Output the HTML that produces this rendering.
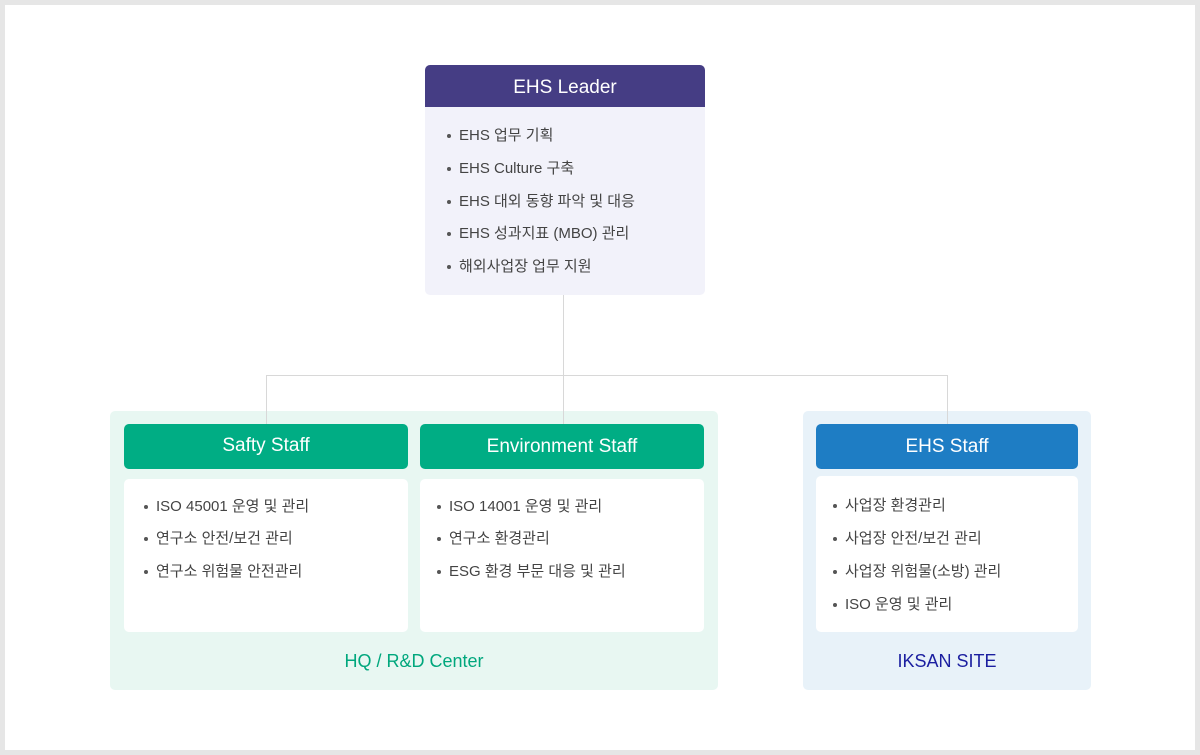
<!DOCTYPE html>
<html><head><meta charset="utf-8"><style>
*{margin:0;padding:0;box-sizing:border-box}
body{width:1200px;height:755px;background:#e6e6e6;font-family:"Liberation Sans","Noto Sans CJK KR",sans-serif;position:relative;overflow:hidden}
.frame{position:absolute;left:5px;top:5px;width:1190px;height:745px;background:#fff}
.a{position:absolute}
.hd{position:absolute;color:#fff;font-size:19px;text-align:center;border-radius:5px}
.bd{position:absolute;background:#fff;border-radius:5px}
.li{position:absolute;font-size:15px;color:#444;white-space:nowrap;line-height:20px}
.li:before{content:"";position:absolute;left:-12px;top:8px;width:4px;height:4px;border-radius:2px;background:#555}
.ln{position:absolute;background:#d8d8d8}
</style></head><body>
<div class="frame"></div>
<div class="ln" style="left:563px;top:295px;width:1px;height:129px"></div>
<div class="ln" style="left:266px;top:375px;width:682px;height:1px"></div>
<div class="ln" style="left:266px;top:375px;width:1px;height:49px"></div>
<div class="ln" style="left:947px;top:375px;width:1px;height:49px"></div>
<div class="a" style="left:425px;top:65px;width:280px;height:230px;background:#f2f2fa;border-radius:5px"></div>
<div class="hd" style="left:425px;top:65px;width:280px;height:42px;line-height:46px;background:#453d84;border-radius:5px 5px 0 0">EHS Leader</div>
<div class="li" style="left:459px;top:126px">EHS 업무 기획</div>
<div class="li" style="left:459px;top:159px">EHS Culture 구축</div>
<div class="li" style="left:459px;top:192px">EHS 대외 동향 파악 및 대응</div>
<div class="li" style="left:459px;top:224px">EHS 성과지표 (MBO) 관리</div>
<div class="li" style="left:459px;top:257px">해외사업장 업무 지원</div>
<div class="a" style="left:110px;top:411px;width:608px;height:279px;background:#e8f7f2;border-radius:5px"></div>
<div class="ln" style="left:266px;top:411px;width:1px;height:13px"></div>
<div class="ln" style="left:563px;top:411px;width:1px;height:13px"></div>
<div class="hd" style="left:124px;top:424px;width:284px;height:45px;line-height:44px;background:#00ad84">Safty Staff</div>
<div class="bd" style="left:124px;top:479px;width:284px;height:153px"></div>
<div class="li" style="left:156px;top:497px">ISO 45001 운영 및 관리</div>
<div class="li" style="left:156px;top:529px">연구소 안전/보건 관리</div>
<div class="li" style="left:156px;top:562px">연구소 위험물 안전관리</div>
<div class="hd" style="left:420px;top:424px;width:284px;height:45px;line-height:46px;background:#00ad84">Environment Staff</div>
<div class="bd" style="left:420px;top:479px;width:284px;height:153px"></div>
<div class="li" style="left:449px;top:497px">ISO 14001 운영 및 관리</div>
<div class="li" style="left:449px;top:529px">연구소 환경관리</div>
<div class="li" style="left:449px;top:562px">ESG 환경 부문 대응 및 관리</div>
<div class="a" style="left:110px;top:651px;width:608px;text-align:center;font-size:18px;color:#00a77d">HQ / R&amp;D Center</div>
<div class="a" style="left:803px;top:411px;width:288px;height:279px;background:#e8f2f9;border-radius:5px"></div>
<div class="ln" style="left:947px;top:411px;width:1px;height:13px"></div>
<div class="hd" style="left:816px;top:424px;width:262px;height:45px;line-height:46px;background:#1e7dc4">EHS Staff</div>
<div class="bd" style="left:816px;top:476px;width:262px;height:156px"></div>
<div class="li" style="left:845px;top:496px">사업장 환경관리</div>
<div class="li" style="left:845px;top:529px">사업장 안전/보건 관리</div>
<div class="li" style="left:845px;top:562px">사업장 위험물(소방) 관리</div>
<div class="li" style="left:845px;top:595px">ISO 운영 및 관리</div>
<div class="a" style="left:803px;top:651px;width:288px;text-align:center;font-size:18px;color:#1b1fa0">IKSAN SITE</div>
</body></html>
